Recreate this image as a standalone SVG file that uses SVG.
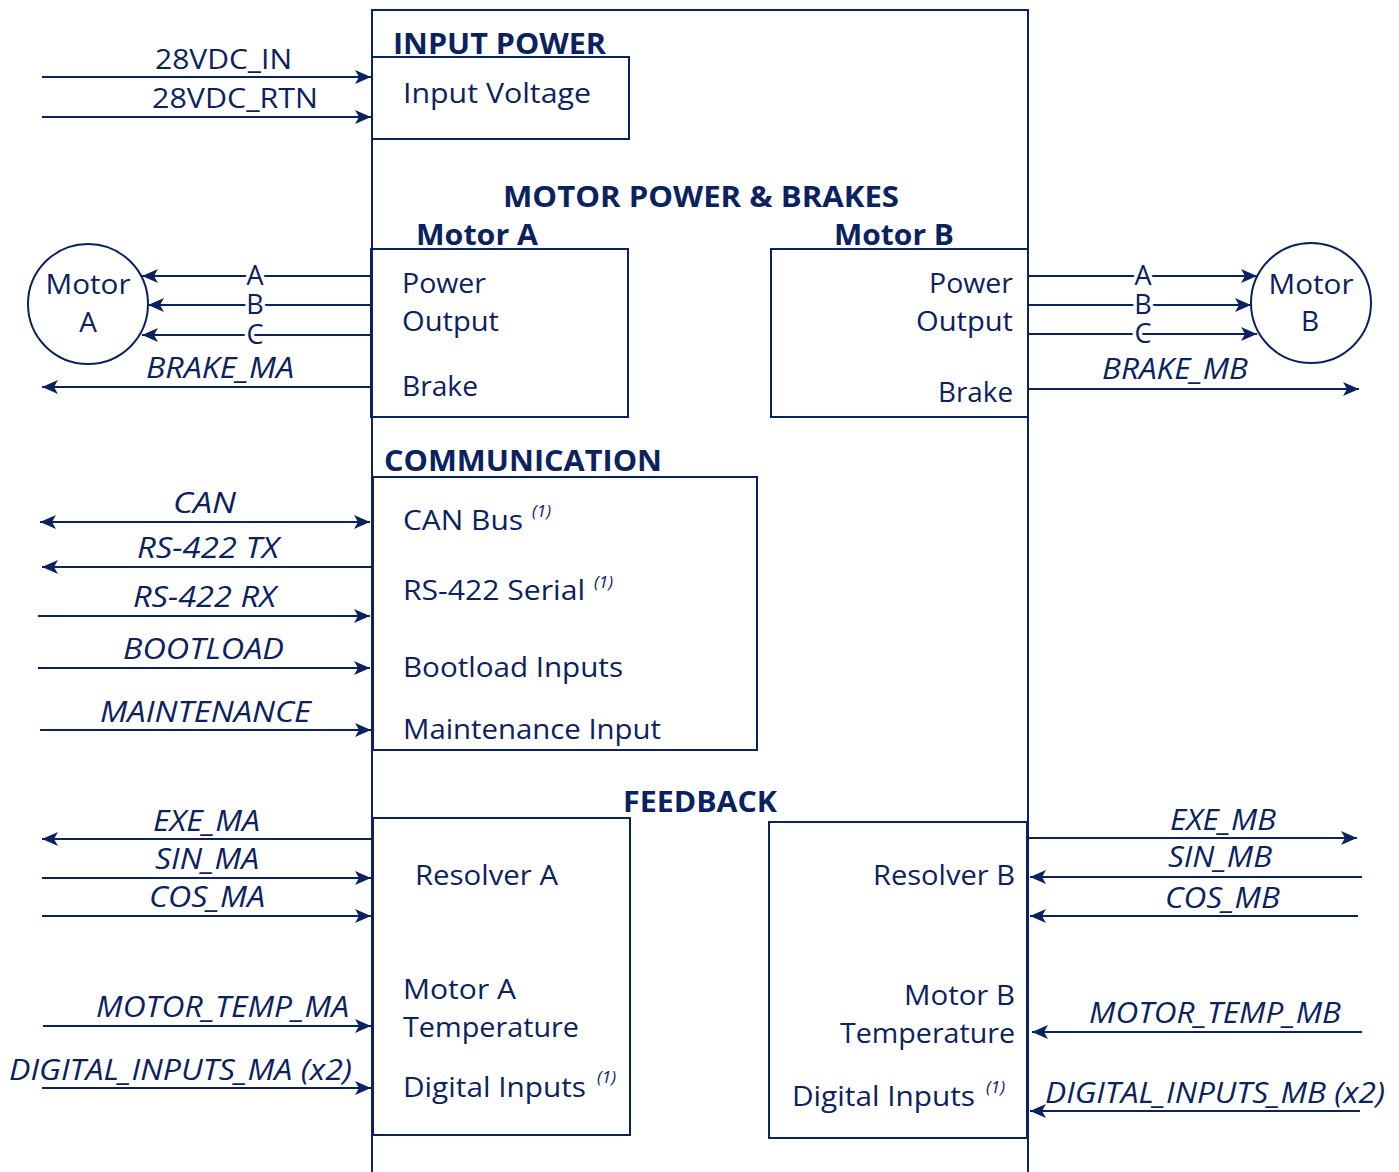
<svg xmlns="http://www.w3.org/2000/svg" width="1399" height="1172" viewBox="0 0 1399 1172">
<style>
.t{font-family:"Open Sans","Noto Sans",sans-serif;font-size:28px;fill:#0b2260}
.b{font-family:"Open Sans","Noto Sans",sans-serif;font-size:28px;font-weight:bold;fill:#0b2260}
.i{font-family:"Open Sans","Noto Sans",sans-serif;font-size:29px;font-style:italic;fill:#0b2260}
.s{font-family:"Open Sans","Noto Sans",sans-serif;font-size:17px;font-style:italic;fill:#0b2260}
.m{text-anchor:middle}
.e{text-anchor:end}
.box{fill:none;stroke:#0b2260;stroke-width:2}
.ln{stroke:#0b2260;stroke-width:2;fill:none}
.arr{marker-end:url(#ah)}
.gap{paint-order:stroke;stroke:#fff;stroke-width:7px;font-size:27px}
</style>
<defs>
<marker id="ah" markerUnits="userSpaceOnUse" markerWidth="18" markerHeight="16" refX="16" refY="8" orient="auto-start-reverse">
<path d="M0,1 L16,8 L0,15 L4,8 z" fill="#0b2260"/>
</marker>
</defs>
<rect width="1399" height="1172" fill="#fff"/>

<g id="main-unit">
<path class="box" d="M372,1172 V10 H1028 V1172"/>
</g>

<g id="input-power">
<text class="b" x="393" y="54" textLength="213" lengthAdjust="spacingAndGlyphs">INPUT POWER</text>
<rect class="box" x="372" y="57" width="257" height="82"/>
<text class="t" x="403" y="103" textLength="188" lengthAdjust="spacingAndGlyphs">Input Voltage</text>
</g>

<g id="motor-power-title">
<text class="b" x="503" y="207" textLength="396" lengthAdjust="spacingAndGlyphs">MOTOR POWER &amp; BRAKES</text>
</g>

<g id="motor-a-block">
<text class="b" x="416" y="245" textLength="122" lengthAdjust="spacingAndGlyphs">Motor A</text>
<rect class="box" x="371" y="249" width="257" height="168"/>
<text class="t" x="402" y="293" textLength="84" lengthAdjust="spacingAndGlyphs">Power</text>
<text class="t" x="402" y="331" textLength="97" lengthAdjust="spacingAndGlyphs">Output</text>
<text class="t" x="402" y="396" textLength="76" lengthAdjust="spacingAndGlyphs">Brake</text>
</g>

<g id="motor-b-block">
<text class="b" x="834" y="245" textLength="120" lengthAdjust="spacingAndGlyphs">Motor B</text>
<rect class="box" x="771" y="249" width="257" height="168"/>
<text class="t" x="929" y="293" textLength="84" lengthAdjust="spacingAndGlyphs">Power</text>
<text class="t" x="916" y="331" textLength="97" lengthAdjust="spacingAndGlyphs">Output</text>
<text class="t" x="938" y="402" textLength="75" lengthAdjust="spacingAndGlyphs">Brake</text>
</g>

<g id="motor-a">
<ellipse class="box" cx="88" cy="304" rx="60" ry="60"/>
<text class="t m" x="88" y="294" textLength="85" lengthAdjust="spacingAndGlyphs">Motor</text>
<text class="t m" x="88" y="332">A</text>
</g>

<g id="motor-b">
<ellipse class="box" cx="1311" cy="303" rx="60" ry="60"/>
<text class="t m" x="1311" y="294" textLength="85" lengthAdjust="spacingAndGlyphs">Motor</text>
<text class="t m" x="1310" y="331">B</text>
</g>

<g id="communication">
<text class="b" x="384" y="471" textLength="278" lengthAdjust="spacingAndGlyphs">COMMUNICATION</text>
<rect class="box" x="373" y="477" width="384" height="273"/>
<text class="t" x="403" y="530" textLength="120" lengthAdjust="spacingAndGlyphs">CAN Bus</text>
<text class="s" x="532" y="517">(1)</text>
<text class="t" x="403" y="600" textLength="182" lengthAdjust="spacingAndGlyphs">RS-422 Serial</text>
<text class="s" x="594" y="588">(1)</text>
<text class="t" x="403" y="677" textLength="220" lengthAdjust="spacingAndGlyphs">Bootload Inputs</text>
<text class="t" x="403" y="739" textLength="258" lengthAdjust="spacingAndGlyphs">Maintenance Input</text>
</g>

<g id="feedback-title">
<text class="b" x="623" y="812" textLength="154" lengthAdjust="spacingAndGlyphs">FEEDBACK</text>
</g>

<g id="resolver-a">
<rect class="box" x="373" y="818" width="257" height="317"/>
<text class="t" x="415" y="885" textLength="143" lengthAdjust="spacingAndGlyphs">Resolver A</text>
<text class="t" x="403" y="999" textLength="113" lengthAdjust="spacingAndGlyphs">Motor A</text>
<text class="t" x="403" y="1037" textLength="176" lengthAdjust="spacingAndGlyphs">Temperature</text>
<text class="t" x="403" y="1097" textLength="183" lengthAdjust="spacingAndGlyphs">Digital Inputs</text>
<text class="s" x="597" y="1083">(1)</text>
</g>

<g id="resolver-b">
<rect class="box" x="769" y="822" width="258" height="316"/>
<text class="t" x="873" y="885" textLength="142" lengthAdjust="spacingAndGlyphs">Resolver B</text>
<text class="t" x="904" y="1005" textLength="111" lengthAdjust="spacingAndGlyphs">Motor B</text>
<text class="t" x="840" y="1043" textLength="175" lengthAdjust="spacingAndGlyphs">Temperature</text>
<text class="t" x="792" y="1106" textLength="183" lengthAdjust="spacingAndGlyphs">Digital Inputs</text>
<text class="s" x="986" y="1093">(1)</text>
</g>

<g id="connectors">
<line class="ln arr" x1="42" y1="77" x2="371" y2="77"/>
<line class="ln arr" x1="42" y1="117" x2="371" y2="117"/>

<line class="ln arr" x1="371" y1="276" x2="142" y2="276"/>
<line class="ln arr" x1="371" y1="305" x2="148" y2="305"/>
<line class="ln arr" x1="371" y1="335" x2="142" y2="335"/>
<line class="ln arr" x1="371" y1="387" x2="42" y2="387"/>

<line class="ln arr" x1="1028" y1="276" x2="1257" y2="276"/>
<line class="ln arr" x1="1028" y1="305" x2="1251" y2="305"/>
<line class="ln arr" x1="1028" y1="334" x2="1257" y2="334"/>
<line class="ln arr" x1="1028" y1="389" x2="1359" y2="389"/>

<line class="ln arr" x1="40" y1="522" x2="370" y2="522" marker-start="url(#ah)"/>
<line class="ln arr" x1="372" y1="567" x2="42" y2="567"/>
<line class="ln arr" x1="38" y1="616" x2="370" y2="616"/>
<line class="ln arr" x1="38" y1="668" x2="370" y2="668"/>
<line class="ln arr" x1="40" y1="730" x2="371" y2="730"/>

<line class="ln arr" x1="372" y1="839" x2="42" y2="839"/>
<line class="ln arr" x1="42" y1="878" x2="371" y2="878"/>
<line class="ln arr" x1="42" y1="916" x2="371" y2="916"/>
<line class="ln arr" x1="43" y1="1026" x2="371" y2="1026"/>
<line class="ln arr" x1="42" y1="1088" x2="371" y2="1088"/>

<line class="ln arr" x1="1028" y1="838" x2="1357" y2="838"/>
<line class="ln arr" x1="1362" y1="877" x2="1030" y2="877"/>
<line class="ln arr" x1="1358" y1="916" x2="1030" y2="916"/>
<line class="ln arr" x1="1362" y1="1032" x2="1032" y2="1032"/>
<line class="ln arr" x1="1360" y1="1111" x2="1030" y2="1111"/>

<text class="t" x="155" y="69" textLength="137" lengthAdjust="spacingAndGlyphs">28VDC_IN</text>
<text class="t" x="152" y="108" textLength="166" lengthAdjust="spacingAndGlyphs">28VDC_RTN</text>

<text class="t m gap" x="255" y="285">A</text>
<text class="t m gap" x="255" y="314">B</text>
<text class="t m gap" x="255" y="344">C</text>
<text class="i" x="146" y="378" textLength="148" lengthAdjust="spacingAndGlyphs">BRAKE_MA</text>

<text class="t m gap" x="1143" y="285">A</text>
<text class="t m gap" x="1143" y="314">B</text>
<text class="t m gap" x="1143" y="343">C</text>
<text class="i" x="1102" y="379" textLength="146" lengthAdjust="spacingAndGlyphs">BRAKE_MB</text>

<text class="i" x="173" y="513" textLength="63" lengthAdjust="spacingAndGlyphs">CAN</text>
<text class="i" x="137" y="558" textLength="142" lengthAdjust="spacingAndGlyphs">RS-422 TX</text>
<text class="i" x="133" y="607" textLength="143" lengthAdjust="spacingAndGlyphs">RS-422 RX</text>
<text class="i" x="123" y="659" textLength="161" lengthAdjust="spacingAndGlyphs">BOOTLOAD</text>
<text class="i" x="100" y="722" textLength="211" lengthAdjust="spacingAndGlyphs">MAINTENANCE</text>

<text class="i" x="153" y="831" textLength="107" lengthAdjust="spacingAndGlyphs">EXE_MA</text>
<text class="i" x="155" y="869" textLength="104" lengthAdjust="spacingAndGlyphs">SIN_MA</text>
<text class="i" x="149" y="907" textLength="116" lengthAdjust="spacingAndGlyphs">COS_MA</text>
<text class="i" x="96" y="1017" textLength="253" lengthAdjust="spacingAndGlyphs">MOTOR_TEMP_MA</text>
<text class="i" x="9" y="1080" textLength="343" lengthAdjust="spacingAndGlyphs">DIGITAL_INPUTS_MA (x2)</text>

<text class="i" x="1170" y="830" textLength="106" lengthAdjust="spacingAndGlyphs">EXE_MB</text>
<text class="i" x="1168" y="867" textLength="104" lengthAdjust="spacingAndGlyphs">SIN_MB</text>
<text class="i" x="1165" y="908" textLength="115" lengthAdjust="spacingAndGlyphs">COS_MB</text>
<text class="i" x="1089" y="1023" textLength="252" lengthAdjust="spacingAndGlyphs">MOTOR_TEMP_MB</text>
<text class="i" x="1045" y="1103" textLength="340" lengthAdjust="spacingAndGlyphs">DIGITAL_INPUTS_MB (x2)</text>
</g>
</svg>
